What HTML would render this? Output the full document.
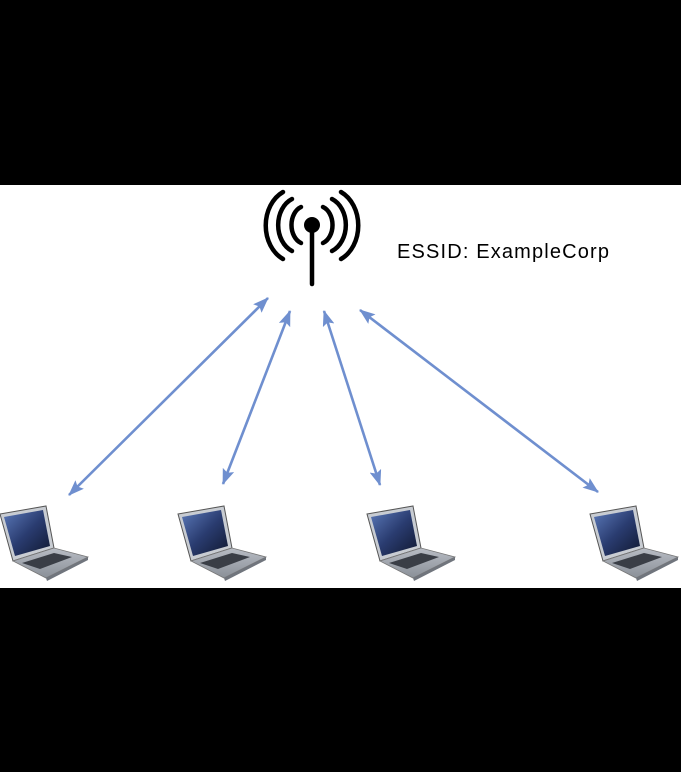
<!DOCTYPE html>
<html><head><style>
html,body{margin:0;padding:0;background:#000;}
#c{position:relative;width:681px;height:772px;background:#000;}
svg{position:absolute;left:0;top:0;}
</style></head><body><div id="c">
<svg width="681" height="772" viewBox="0 0 681 772">
<defs>
<marker id="a" markerWidth="16" markerHeight="12" refX="15" refY="6" orient="auto-start-reverse" markerUnits="userSpaceOnUse">
<path d="M0,0 L16,6 L0,12 L3,6 Z" fill="#6f8fcf"/>
</marker>
<linearGradient id="scr" x1="0" y1="0" x2="1" y2="1">
<stop offset="0" stop-color="#5a78b8"/><stop offset="0.5" stop-color="#2a3c70"/><stop offset="1" stop-color="#101830"/>
</linearGradient>
<linearGradient id="base" x1="0" y1="0" x2="0" y2="1">
<stop offset="0" stop-color="#b8bcc4"/><stop offset="1" stop-color="#8a9098"/>
</linearGradient>
<g id="lap">
<polygon points="0,9 46,1 54,43 13,56" fill="#c8ccd2" stroke="#555" stroke-width="1"/>
<polygon points="4,12 43,5 50,41 15,51" fill="url(#scr)"/>
<polygon points="13,56 54,43 88,52 46,73" fill="url(#base)" stroke="#777" stroke-width="0.8"/>
<polygon points="22,58 54,48 72,52 40,64" fill="#3a3e46"/>
<polygon points="46,73 88,52 88,55 47,76" fill="#70757d"/>
</g>
</defs>
<rect x="0" y="185" width="681" height="403" fill="#fff"/>
<g fill="none" stroke="#000" stroke-width="4.5" stroke-linecap="round">
<line x1="312" y1="226" x2="312" y2="284"/>
<path d="M301,207 A14,19 0 0 0 301,243"/>
<path d="M292,199 A22,28 0 0 0 292,251"/>
<path d="M283,192 A30,37 0 0 0 283,259"/>
<path d="M323,207 A14,19 0 0 1 323,243"/>
<path d="M332,199 A22,28 0 0 1 332,251"/>
<path d="M341,192 A30,37 0 0 1 341,259"/>
</g>
<circle cx="312" cy="225" r="8" fill="#000"/>
<text x="397" y="258" font-family="Liberation Sans, sans-serif" font-size="20" textLength="212" fill="#000">ESSID: ExampleCorp</text>
<g stroke="#6f8fcf" stroke-width="2.6" marker-start="url(#a)" marker-end="url(#a)">
<line x1="69" y1="495" x2="268" y2="298"/>
<line x1="223" y1="484" x2="290" y2="311"/>
<line x1="380" y1="485" x2="324" y2="311"/>
<line x1="598" y1="492" x2="360" y2="310"/>
</g>
<use href="#lap" x="0" y="505"/>
<use href="#lap" x="178" y="505"/>
<use href="#lap" x="367" y="505"/>
<use href="#lap" x="590" y="505"/>
</svg>
</div></body></html>
